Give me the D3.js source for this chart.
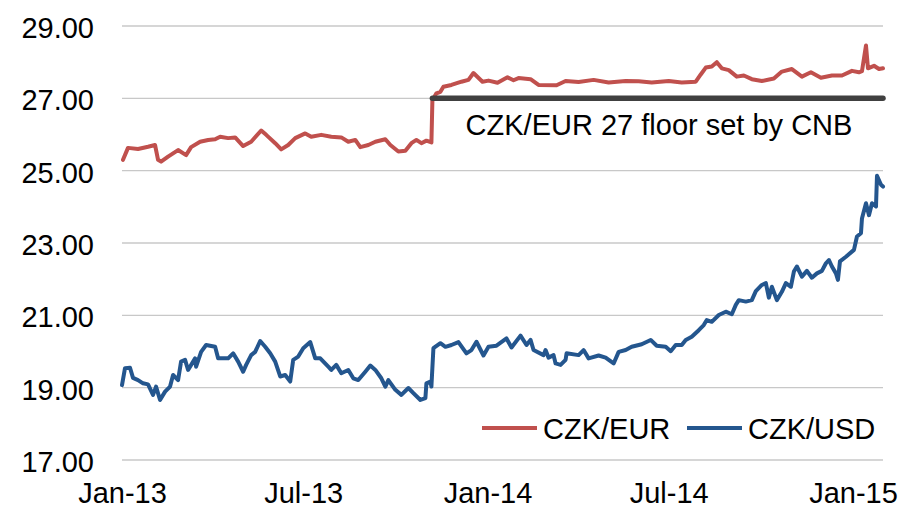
<!DOCTYPE html>
<html>
<head>
<meta charset="utf-8">
<script src="https://cdn.jsdelivr.net/npm/d3@7"></script>
<style>
  body { margin: 0; background: #fff; }
  svg { display: block; font-family: "Liberation Sans", Arial, sans-serif; }
</style>
</head>
<body>
<script>

var eurDates = ["2013-01-02","2013-01-07","2013-01-17","2013-01-27","2013-02-03","2013-02-06","2013-02-09","2013-02-16","2013-02-26","2013-03-06","2013-03-11","2013-03-20","2013-03-28","2013-04-04","2013-04-09","2013-04-17","2013-04-24","2013-05-02","2013-05-10","2013-05-20","2013-05-25","2013-06-03","2013-06-09","2013-06-16","2013-06-23","2013-07-03","2013-07-09","2013-07-19","2013-07-29","2013-08-08","2013-08-15","2013-08-22","2013-08-27","2013-09-04","2013-09-11","2013-09-21","2013-09-26","2013-10-04","2013-10-11","2013-10-17","2013-10-22","2013-10-27","2013-11-01","2013-11-06","2013-11-07","2013-11-11","2013-11-15","2013-11-18","2013-11-26","2013-12-06","2013-12-13","2013-12-18","2013-12-27","2014-01-02","2014-01-11","2014-01-21","2014-01-27","2014-02-01","2014-02-13","2014-02-21","2014-03-11","2014-03-20","2014-04-02","2014-04-17","2014-05-02","2014-05-19","2014-06-01","2014-06-14","2014-07-01","2014-07-14","2014-07-28","2014-08-02","2014-08-07","2014-08-13","2014-08-18","2014-08-23","2014-08-30","2014-09-07","2014-09-14","2014-09-22","2014-10-02","2014-10-14","2014-10-22","2014-11-01","2014-11-11","2014-11-20","2014-11-30","2014-12-11","2014-12-21","2014-12-31","2015-01-07","2015-01-10","2015-01-14","2015-01-16","2015-01-22","2015-01-27","2015-01-31"];
var eurValues = [25.30,25.63,25.60,25.66,25.71,25.30,25.25,25.39,25.57,25.43,25.65,25.80,25.85,25.87,25.94,25.90,25.92,25.68,25.80,26.11,25.99,25.76,25.59,25.71,25.90,26.03,25.94,25.99,25.94,25.92,25.80,25.85,25.65,25.71,25.80,25.87,25.71,25.53,25.55,25.76,25.85,25.76,25.83,25.78,26.95,27.14,27.18,27.32,27.37,27.46,27.51,27.70,27.46,27.49,27.43,27.58,27.50,27.56,27.53,27.37,27.36,27.48,27.45,27.51,27.44,27.48,27.47,27.44,27.48,27.44,27.46,27.66,27.85,27.88,28.00,27.83,27.78,27.60,27.63,27.53,27.48,27.55,27.74,27.81,27.60,27.72,27.57,27.63,27.63,27.76,27.72,27.75,28.46,27.83,27.90,27.81,27.83];

var usdDates = ["2013-01-01","2013-01-04","2013-01-09","2013-01-12","2013-01-17","2013-01-22","2013-01-27","2013-02-01","2013-02-04","2013-02-08","2013-02-13","2013-02-18","2013-02-21","2013-02-26","2013-03-01","2013-03-05","2013-03-08","2013-03-15","2013-03-16","2013-03-21","2013-03-26","2013-04-04","2013-04-07","2013-04-17","2013-04-22","2013-04-27","2013-05-02","2013-05-05","2013-05-10","2013-05-14","2013-05-19","2013-05-24","2013-05-29","2013-06-03","2013-06-08","2013-06-13","2013-06-18","2013-06-21","2013-06-26","2013-07-01","2013-07-08","2013-07-13","2013-07-18","2013-07-26","2013-07-29","2013-08-03","2013-08-08","2013-08-15","2013-08-20","2013-08-25","2013-09-01","2013-09-06","2013-09-11","2013-09-17","2013-09-21","2013-09-24","2013-10-01","2013-10-07","2013-10-14","2013-10-19","2013-10-26","2013-10-31","2013-11-01","2013-11-05","2013-11-06","2013-11-08","2013-11-15","2013-11-20","2013-11-26","2013-12-03","2013-12-11","2013-12-16","2013-12-21","2013-12-28","2014-01-02","2014-01-10","2014-01-20","2014-01-25","2014-02-03","2014-02-09","2014-02-13","2014-02-16","2014-02-26","2014-02-28","2014-03-03","2014-03-08","2014-03-10","2014-03-15","2014-03-20","2014-03-21","2014-04-02","2014-04-07","2014-04-12","2014-04-22","2014-04-29","2014-05-07","2014-05-12","2014-05-19","2014-05-25","2014-06-04","2014-06-13","2014-06-19","2014-06-28","2014-07-03","2014-07-08","2014-07-14","2014-07-18","2014-07-24","2014-07-31","2014-08-05","2014-08-08","2014-08-13","2014-08-20","2014-08-27","2014-09-02","2014-09-06","2014-09-09","2014-09-16","2014-09-22","2014-09-26","2014-10-02","2014-10-06","2014-10-09","2014-10-12","2014-10-17","2014-10-22","2014-10-26","2014-10-31","2014-11-03","2014-11-06","2014-11-11","2014-11-16","2014-11-21","2014-11-26","2014-12-01","2014-12-05","2014-12-08","2014-12-11","2014-12-15","2014-12-17","2014-12-19","2014-12-25","2015-01-02","2015-01-05","2015-01-09","2015-01-10","2015-01-14","2015-01-17","2015-01-20","2015-01-24","2015-01-25","2015-01-29","2015-01-31"];
var usdValues = [19.07,19.54,19.55,19.27,19.21,19.12,19.09,18.80,19.03,18.66,18.89,19.03,19.35,19.21,19.72,19.77,19.49,19.81,19.58,19.99,20.18,20.13,19.81,19.81,19.95,19.72,19.44,19.63,19.90,19.99,20.29,20.13,19.95,19.72,19.31,19.35,19.17,19.77,19.86,20.09,20.26,19.81,19.81,19.58,19.49,19.63,19.40,19.49,19.26,19.21,19.44,19.61,19.49,19.26,19.03,19.21,18.94,18.80,18.99,18.85,18.66,18.71,19.12,19.17,19.03,20.09,20.23,20.13,20.18,20.26,19.95,20.04,20.27,19.89,20.13,20.16,20.36,20.11,20.44,20.18,20.32,20.04,19.90,20.04,19.83,19.90,19.67,19.63,19.77,19.95,19.90,20.04,19.81,19.89,19.83,19.67,19.99,20.04,20.13,20.20,20.32,20.16,20.13,20.01,20.18,20.18,20.32,20.41,20.59,20.73,20.87,20.82,21.01,21.10,21.03,21.29,21.42,21.38,21.42,21.67,21.84,21.89,21.49,21.79,21.42,21.65,21.89,21.79,22.21,22.35,22.07,22.23,22.04,22.16,22.23,22.44,22.53,22.35,22.16,21.98,22.49,22.62,22.81,23.18,23.27,23.68,24.10,23.77,24.10,24.01,24.86,24.61,24.56];

// CNB floor on CZK/EUR, from 7 Nov 2013
var floorDates = ["2013-11-07","2015-01-31"];
var floorValue = 27;
var floorLabel = "CZK/EUR 27 floor set by CNB";

var yTicks = [17,19,21,23,25,27,29];
var xTicks = ["2013-01-01","2013-07-01","2014-01-01","2014-07-01","2015-01-01"];

var seriesNames = ["CZK/EUR","CZK/USD"];
var seriesColors = ["#c0504d","#24568e"];

var width = 904, height = 510;
var parse = d3.timeParse("%Y-%m-%d");

var x = d3.scaleTime()
  .domain([parse("2013-01-01"), parse("2015-01-31")])
  .range([122, 883]);

var y = d3.scaleLinear()
  .domain([17, 29])
  .range([460, 26]);

var svg = d3.select("body").append("svg")
  .attr("width", width)
  .attr("height", height);

// gridlines
svg.append("g")
  .selectAll("line")
  .data(yTicks)
  .enter().append("line")
  .attr("x1", x.range()[0])
  .attr("x2", x.range()[1])
  .attr("y1", function(d) { return y(d); })
  .attr("y2", function(d) { return y(d); })
  .attr("stroke", "#c8c8c8")
  .attr("stroke-width", 1.3);

// y labels
var yAxis = d3.axisLeft(y)
  .tickValues(yTicks)
  .tickFormat(d3.format(".2f"))
  .tickSize(0)
  .tickPadding(0);

svg.append("g")
  .attr("transform", "translate(94,0)")
  .call(yAxis)
  .call(function(g) { g.select(".domain").remove(); })
  .selectAll("text")
  .attr("font-family", "Liberation Sans, Arial, sans-serif")
  .attr("font-size", 29)
  .attr("fill", "#000")
  .attr("dy", "0.4em");

// x labels
var xAxis = d3.axisBottom(x)
  .tickValues(xTicks.map(parse))
  .tickFormat(d3.timeFormat("%b-%y"))
  .tickSize(0)
  .tickPadding(0);

svg.append("g")
  .attr("transform", "translate(0,481)")
  .call(xAxis)
  .call(function(g) { g.select(".domain").remove(); })
  .selectAll("text")
  .attr("font-family", "Liberation Sans, Arial, sans-serif")
  .attr("font-size", 29)
  .attr("fill", "#000")
  .attr("dy", "0.76em");

var line = d3.line()
  .x(function(d) { return x(d.date); })
  .y(function(d) { return y(d.value); });

function toPoints(dates, values) {
  return dates.map(function(d, i) { return {date: parse(d), value: values[i]}; });
}

var series = [toPoints(eurDates, eurValues), toPoints(usdDates, usdValues)];

svg.append("g")
  .selectAll("path")
  .data(series)
  .enter().append("path")
  .attr("d", line)
  .attr("fill", "none")
  .attr("stroke", function(d, i) { return seriesColors[i]; })
  .attr("stroke-width", 4)
  .attr("stroke-linejoin", "round")
  .attr("stroke-linecap", "round");

// floor
svg.append("path")
  .datum(floorDates.map(function(d) { return {date: parse(d), value: floorValue}; }))
  .attr("d", line)
  .attr("stroke", "#404040")
  .attr("stroke-width", 5.5)
  .attr("stroke-linecap", "round");

svg.append("text")
  .attr("x", 659)
  .attr("y", y(floorValue) + 37)
  .attr("text-anchor", "middle")
  .attr("font-size", 29)
  .attr("fill", "#000")
  .text(floorLabel);

// legend
var legendX = [482, 687];
var legend = svg.append("g")
  .selectAll("g")
  .data(seriesNames)
  .enter().append("g")
  .attr("transform", function(d, i) { return "translate(" + legendX[i] + ",428)"; });

legend.append("line")
  .attr("x1", 0)
  .attr("x2", 55)
  .attr("stroke", function(d, i) { return seriesColors[i]; })
  .attr("stroke-width", 4);

legend.append("text")
  .attr("x", 61)
  .attr("y", 11)
  .attr("font-size", 29)
  .attr("fill", "#000")
  .text(function(d) { return d; });

</script>
</body>
</html>
